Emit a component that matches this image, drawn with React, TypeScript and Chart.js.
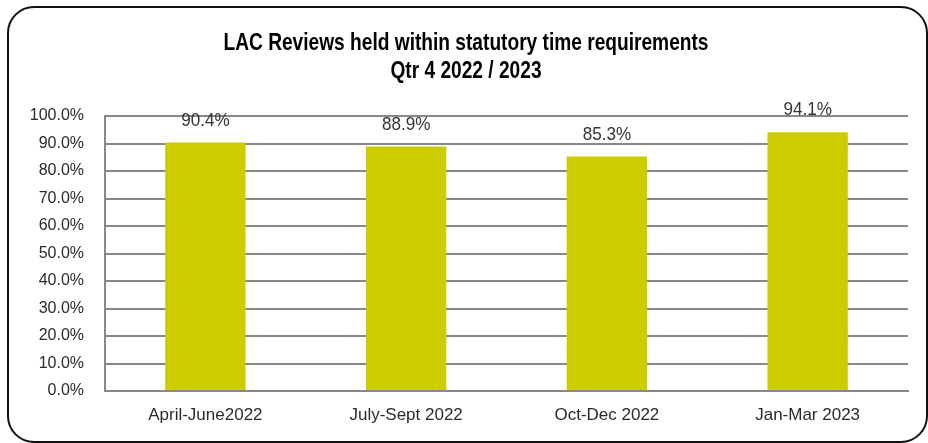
import React, { useEffect, useRef } from "react";
import { Chart, registerables } from "chart.js";

Chart.register(...registerables);

const categories = ["April-June2022", "July-Sept 2022", "Oct-Dec 2022", "Jan-Mar 2023"];
const values = [90.4, 88.9, 85.3, 94.1];
const titleLines = ["LAC Reviews held within statutory time requirements", "Qtr 4 2022 / 2023"];

const FONT = "'Liberation Sans', Arial, sans-serif";

function condensedText(ctx: any, text: string, cx: number, cy: number, sx: number) {
  ctx.save();
  ctx.translate(cx, cy);
  ctx.scale(sx, 1);
  ctx.fillText(text, 0, 0);
  ctx.restore();
}

const framePlugin = {
  id: "frame",
  beforeDraw(chart: any) {
    const ctx = chart.ctx;
    ctx.save();
    ctx.fillStyle = "#ffffff";
    ctx.fillRect(0, 0, chart.width, chart.height);
    ctx.beginPath();
    ctx.lineWidth = 2;
    ctx.strokeStyle = "#111111";
    (ctx as any).roundRect(8, 7, 919, 435, 26);
    ctx.stroke();
    ctx.fillStyle = "#000000";
    ctx.textAlign = "center";
    ctx.textBaseline = "middle";
    ctx.font = `bold 24px ${FONT}`;
    const w = ctx.measureText(titleLines[0]).width;
    const sx = 485 / w;
    condensedText(ctx, titleLines[0], 466, 43, sx);
    condensedText(ctx, titleLines[1], 466, 71, sx);
    ctx.restore();
  },
};

const labelPlugin = {
  id: "barLabels",
  afterDatasetsDraw(chart: any) {
    const ctx = chart.ctx;
    const meta = chart.getDatasetMeta(0);
    ctx.save();
    ctx.fillStyle = "#333333";
    ctx.textAlign = "center";
    ctx.textBaseline = "middle";
    ctx.font = `19px ${FONT}`;
    meta.data.forEach((bar: any, i: number) => {
      condensedText(ctx, values[i].toFixed(1) + "%", bar.x, bar.y - 22, 0.9);
    });
    ctx.restore();
  },
};

export default function App() {
  const ref = useRef<HTMLCanvasElement>(null);
  useEffect(() => {
    const chart = new Chart(ref.current!, {
      type: "bar",
      data: {
        labels: categories,
        datasets: [
          {
            data: values,
            backgroundColor: "#cccc00",
            borderWidth: 0,
            barPercentage: 0.4,
            categoryPercentage: 1,
          },
        ],
      },
      options: {
        animation: false,
        responsive: false,
        maintainAspectRatio: false,
        layout: { padding: { left: 0, right: 20, top: 116, bottom: 0 } },
        plugins: { legend: { display: false }, tooltip: { enabled: false }, title: { display: false } },
        scales: {
          x: {
            grid: { display: false, drawTicks: false },
            border: { display: true, color: "#888888", width: 2 },
            ticks: { color: "#2a2a2a", font: { family: FONT, size: 17 }, padding: 14, maxRotation: 0 },
            afterFit: (s: any) => { s.height = 52; },
          },
          y: {
            min: 0,
            max: 100,
            ticks: {
              stepSize: 10,
              color: "#2a2a2a",
              padding: 21,
              font: { family: FONT, size: 16 },
              callback: (v: any) => Number(v).toFixed(1) + "%",
            },
            grid: { color: "#888888", lineWidth: 2, drawTicks: false },
            border: { display: true, color: "#888888", width: 2 },
            afterFit: (s: any) => { s.width = 105; },
          },
        },
      },
      plugins: [framePlugin, labelPlugin],
    });
    return () => chart.destroy();
  }, []);
  return (
    <div style={{ position: "fixed", left: 0, top: 0, width: 928, height: 443 }}>
      <canvas ref={ref} width={928} height={443} style={{ width: 928, height: 443 }} />
    </div>
  );
}
